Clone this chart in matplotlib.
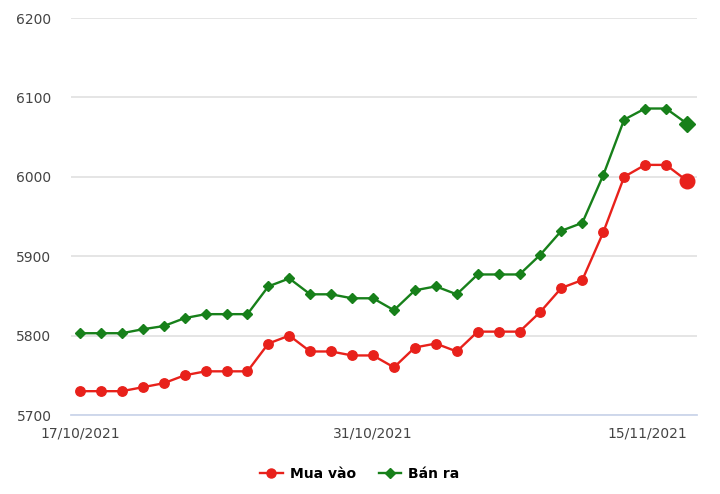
import matplotlib
matplotlib.use("Agg")
import matplotlib.pyplot as plt
from matplotlib.lines import Line2D

dates = ["17/10/2021", "18/10/2021", "19/10/2021", "20/10/2021", "21/10/2021",
         "22/10/2021", "23/10/2021", "24/10/2021", "25/10/2021", "26/10/2021",
         "27/10/2021", "28/10/2021", "29/10/2021", "30/10/2021", "31/10/2021",
         "01/11/2021", "02/11/2021", "03/11/2021", "04/11/2021", "05/11/2021",
         "06/11/2021", "07/11/2021", "08/11/2021", "09/11/2021", "10/11/2021",
         "11/11/2021", "12/11/2021", "13/11/2021", "14/11/2021", "15/11/2021"]
mua_vao = [5730, 5730, 5730, 5735, 5740, 5750, 5755, 5755, 5755, 5790,
           5800, 5780, 5780, 5775, 5775, 5760, 5785, 5790, 5780, 5805,
           5805, 5805, 5830, 5860, 5870, 5930, 6000, 6015, 6015, 5995]
ban_ra = [5803, 5803, 5803, 5808, 5812, 5822, 5827, 5827, 5827, 5862,
          5872, 5852, 5852, 5847, 5847, 5832, 5857, 5862, 5852, 5877,
          5877, 5877, 5902, 5932, 5942, 6002, 6072, 6086, 6086, 6067]
series_names = ["Mua vào", "Bán ra"]
yticks = [5700, 5800, 5900, 6000, 6100, 6200]
xtick_idx = [0, 14, 29]

RED = "#e8211b"
GREEN = "#17801a"

W, H = 720, 494
fig = plt.figure(figsize=(W / 100, H / 100), dpi=100)
ax = fig.add_axes([71 / W, 1 - 415 / H, (697 - 71) / W, (415 - 18) / H])

x = list(range(len(dates)))
ax.plot(x[:-1], mua_vao[:-1], color=RED, lw=1.7, marker="o", ms=6.8, mec=RED, mfc=RED, zorder=3)
ax.plot(x[-2:], mua_vao[-2:], color=RED, lw=1.7, zorder=3)
ax.plot(x[-1], mua_vao[-1], marker="o", ms=10.5, color=RED, zorder=4)
ax.plot(x[:-1], ban_ra[:-1], color=GREEN, lw=1.7, marker="D", ms=5, mec=GREEN, mfc=GREEN, zorder=3)
ax.plot(x[-2:], ban_ra[-2:], color=GREEN, lw=1.7, zorder=3)
ax.plot(x[-1], ban_ra[-1], marker="D", ms=8, color=GREEN, zorder=4)

ax.set_xlim(-0.43, 29.48)
ax.set_ylim(5700, 6200)
ax.set_yticks(yticks)
ax.set_yticklabels([str(v) for v in yticks], fontsize=10, color="#444444")
ax.grid(axis="y", color="#e3e3e3", lw=1.3)
ax.set_axisbelow(True)
for s in ["top", "right", "left"]:
    ax.spines[s].set_visible(False)
ax.spines["bottom"].set_color("#ccd6eb")
ax.spines["bottom"].set_linewidth(1.3)
ax.tick_params(axis="y", length=0, pad=14)
ax.tick_params(axis="x", length=0, pad=8)
ax.set_xticks(xtick_idx)
labels = ax.set_xticklabels([dates[i] for i in xtick_idx], fontsize=10, color="#444444")
labels[-1].set_horizontalalignment("right")
labels[-1].set_x(29.4)

handles = [Line2D([], [], color=RED, lw=1.7, marker="o", ms=6.5),
           Line2D([], [], color=GREEN, lw=1.7, marker="D", ms=5)]
fig.legend(handles, series_names, loc="center", bbox_to_anchor=(0.5, 1 - 474 / H),
           ncol=2, frameon=False, prop={"weight": "bold", "size": 10},
           handlelength=1.6, columnspacing=1.7, handletextpad=0.5)

fig.savefig("out.png", dpi=100)
